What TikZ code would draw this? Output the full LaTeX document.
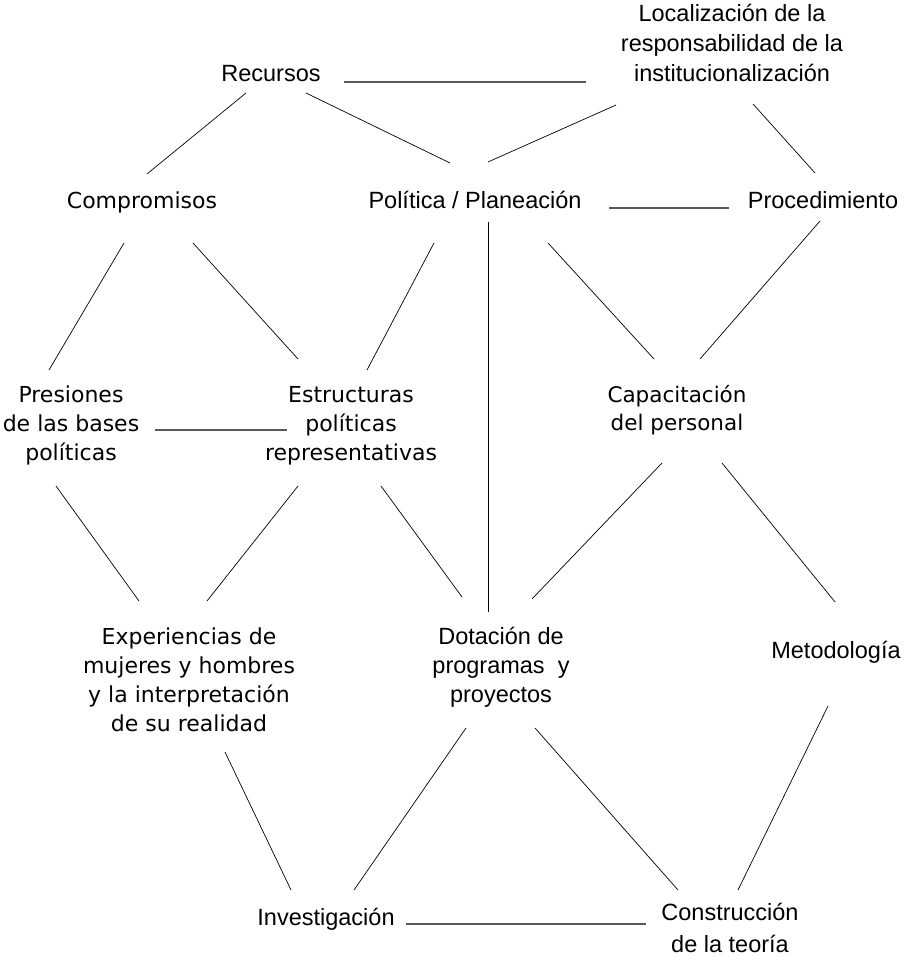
\documentclass[tikz,border=0pt]{standalone}
\usepackage{fontspec}
\newfontfamily\fa{Liberation Sans}
\newfontfamily\fb{DejaVu Sans}
\tikzset{
  ta/.style={font=\fa\fontsize{23.5}{30}\selectfont, align=center, anchor=base, inner sep=0pt},
  tb/.style={font=\fb\fontsize{22}{29}\selectfont, align=center, anchor=base, inner sep=0pt},
  link/.style={draw=black, line width=0.7pt},
  hlink/.style={draw=black!65, line width=1.4pt}
}
\begin{document}
\begin{tikzpicture}[x=1pt,y=-1pt]
\useasboundingbox[fill=white] (0,0) rectangle (910,957);
% nodes (anchor base = baseline of the last line)
\node[ta] (loc) at (732,82) {Localización de la\\responsabilidad de la\\institucionalización};
\node[ta] (rec) at (271,82) {Recursos};
\node[tb] (comp) at (142,209) {Compromisos};
\node[ta] (pol) at (475,209) {Política / Planeación};
\node[ta] (proc) at (823,209) {Procedimiento};
\node[tb] (pres) at (71,460) {Presiones\\de las bases\\políticas};
\node[tb] (estr) at (351,460) {Estructuras\\políticas\\representativas};
\node[tb, font=\fb\fontsize{21.5}{28}\selectfont] (cap) at (677,430) {Capacitación\\del personal};
\node[tb] (exp) at (189,731) {Experiencias de\\mujeres y hombres\\y la interpretación\\de su realidad};
\node[ta, font=\fa\fontsize{23.5}{29}\selectfont] (dot) at (501,702) {Dotación de\\programas\ \ y\\proyectos};
\node[ta] (met) at (836,658) {Metodología};
\node[ta] (inv) at (326,925) {Investigación};
\node[ta, font=\fa\fontsize{23.5}{32}\selectfont] (con) at (730,952) {Construcción\\de la teoría};
% connector ends
\coordinate (rec-loc-a) at (344,82);   \coordinate (rec-loc-b) at (586,82);
\coordinate (rec-comp-a) at (246,93);  \coordinate (rec-comp-b) at (147,174);
\coordinate (rec-pol-a) at (306,93);   \coordinate (rec-pol-b) at (450,163);
\coordinate (loc-pol-a) at (616,105);  \coordinate (loc-pol-b) at (488,162);
\coordinate (loc-proc-a) at (753,104); \coordinate (loc-proc-b) at (815,173);
\coordinate (pol-proc-a) at (609,208); \coordinate (pol-proc-b) at (729,208);
\coordinate (comp-pres-a) at (124,243);\coordinate (comp-pres-b) at (49,370);
\coordinate (comp-estr-a) at (193,243);\coordinate (comp-estr-b) at (298,359);
\coordinate (pol-estr-a) at (434,243); \coordinate (pol-estr-b) at (367,370);
\coordinate (pol-dot-a) at (488,222);  \coordinate (pol-dot-b) at (488,612);
\coordinate (pol-cap-a) at (548,243);  \coordinate (pol-cap-b) at (654,359);
\coordinate (proc-cap-a) at (820,221); \coordinate (proc-cap-b) at (700,359);
\coordinate (pres-estr-a) at (155,430);\coordinate (pres-estr-b) at (287,430);
\coordinate (pres-exp-a) at (56,486);  \coordinate (pres-exp-b) at (139,601);
\coordinate (estr-exp-a) at (298,486); \coordinate (estr-exp-b) at (207,601);
\coordinate (estr-dot-a) at (381,486); \coordinate (estr-dot-b) at (462,597);
\coordinate (cap-dot-a) at (662,463);  \coordinate (cap-dot-b) at (532,599);
\coordinate (cap-met-a) at (722,463);  \coordinate (cap-met-b) at (835,602);
\coordinate (exp-inv-a) at (225,752);  \coordinate (exp-inv-b) at (291,890);
\coordinate (dot-inv-a) at (466,728);  \coordinate (dot-inv-b) at (354,890);
\coordinate (dot-con-a) at (535,728);  \coordinate (dot-con-b) at (678,890);
\coordinate (met-con-a) at (828,706);  \coordinate (met-con-b) at (738,890);
\coordinate (inv-con-a) at (406,924);  \coordinate (inv-con-b) at (646,924);
% connectors
\draw[hlink] (rec-loc-a) -- (rec-loc-b);
\draw[hlink] (pol-proc-a) -- (pol-proc-b);
\draw[hlink] (pres-estr-a) -- (pres-estr-b);
\draw[hlink] (inv-con-a) -- (inv-con-b);
\draw[link] (rec-comp-a) -- (rec-comp-b);
\draw[link] (rec-pol-a) -- (rec-pol-b);
\draw[link] (loc-pol-a) -- (loc-pol-b);
\draw[link] (loc-proc-a) -- (loc-proc-b);
\draw[link] (comp-pres-a) -- (comp-pres-b);
\draw[link] (comp-estr-a) -- (comp-estr-b);
\draw[link] (pol-estr-a) -- (pol-estr-b);
\draw[link] (pol-dot-a) -- (pol-dot-b);
\draw[link] (pol-cap-a) -- (pol-cap-b);
\draw[link] (proc-cap-a) -- (proc-cap-b);
\draw[link] (pres-exp-a) -- (pres-exp-b);
\draw[link] (estr-exp-a) -- (estr-exp-b);
\draw[link] (estr-dot-a) -- (estr-dot-b);
\draw[link] (cap-dot-a) -- (cap-dot-b);
\draw[link] (cap-met-a) -- (cap-met-b);
\draw[link] (exp-inv-a) -- (exp-inv-b);
\draw[link] (dot-inv-a) -- (dot-inv-b);
\draw[link] (dot-con-a) -- (dot-con-b);
\draw[link] (met-con-a) -- (met-con-b);
\end{tikzpicture}
\end{document}
